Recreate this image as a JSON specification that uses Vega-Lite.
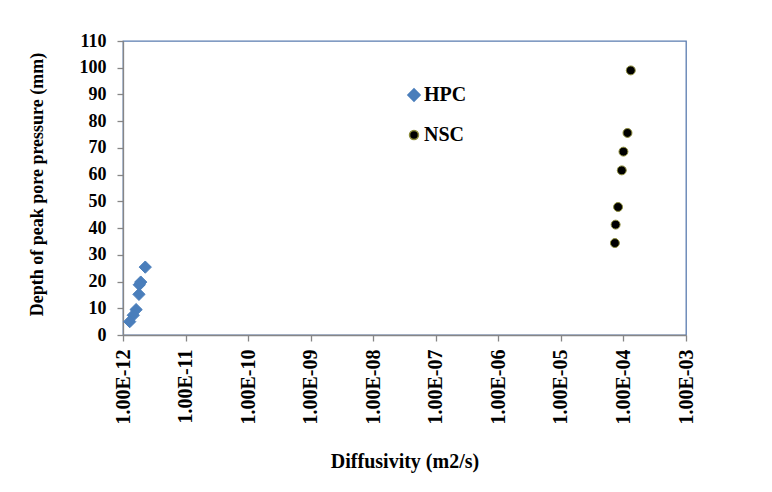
{
  "$schema": "https://vega.github.io/schema/vega-lite/v6.json",
  "width": 563,
  "height": 294,
  "autosize": {"type": "none"},
  "padding": {"left": 123, "top": 41, "right": 86, "bottom": 157},
  "background": "white",
  "config": {
    "font": "Liberation Serif",
    "view": {"stroke": "#5a7cb0", "strokeWidth": 1.3},
    "axis": {
      "grid": false,
      "domainColor": "#868686",
      "domainWidth": 1.3,
      "tickColor": "#868686",
      "tickWidth": 1.3,
      "tickSize": 6,
      "labelFont": "Liberation Serif",
      "labelFontWeight": "bold",
      "labelColor": "black",
      "titleFont": "Liberation Serif",
      "titleFontWeight": "bold",
      "titleColor": "black"
    }
  },
  "data": {
    "values": [
      {"series": "HPC", "diffusivity": 2.27e-12, "depth": 25.4},
      {"series": "HPC", "diffusivity": 1.92e-12, "depth": 19.8},
      {"series": "HPC", "diffusivity": 1.82e-12, "depth": 18.8},
      {"series": "HPC", "diffusivity": 1.80e-12, "depth": 15.2},
      {"series": "HPC", "diffusivity": 1.62e-12, "depth": 9.5},
      {"series": "HPC", "diffusivity": 1.46e-12, "depth": 7.4},
      {"series": "HPC", "diffusivity": 1.28e-12, "depth": 5.0},
      {"series": "NSC", "diffusivity": 1.31e-4, "depth": 99.0},
      {"series": "NSC", "diffusivity": 1.16e-4, "depth": 75.6},
      {"series": "NSC", "diffusivity": 1.00e-4, "depth": 68.6},
      {"series": "NSC", "diffusivity": 9.4e-5, "depth": 61.6},
      {"series": "NSC", "diffusivity": 8.2e-5, "depth": 47.9},
      {"series": "NSC", "diffusivity": 7.5e-5, "depth": 41.3},
      {"series": "NSC", "diffusivity": 7.3e-5, "depth": 34.4}
    ]
  },
  "mark": {"type": "point", "filled": true, "opacity": 1, "strokeWidth": 1},
  "encoding": {
    "x": {
      "field": "diffusivity",
      "type": "quantitative",
      "scale": {"type": "log", "domain": [1e-12, 1e-3], "nice": false},
      "axis": {
        "title": "Diffusivity (m2/s)",
        "titleFontSize": 20,
        "titleY": 126,
        "titleBaseline": "middle",
        "values": [1e-12, 1e-11, 1e-10, 1e-9, 1e-8, 1e-7, 1e-6, 1e-5, 1e-4, 1e-3],
        "labelExpr": "'1.00E-' + (abs(round(log(datum.value) / LN10)) < 10 ? '0' : '') + abs(round(log(datum.value) / LN10))",
        "labelAngle": -90,
        "labelAlign": "right",
        "labelBaseline": "middle",
        "labelFontSize": 20,
        "labelPadding": 8,
        "labelOverlap": false,
        "labelFlush": false
      }
    },
    "y": {
      "field": "depth",
      "type": "quantitative",
      "scale": {"domain": [0, 110], "nice": false},
      "axis": {
        "title": "Depth of peak pore pressure (mm)",
        "titleFontSize": 18,
        "titleAngle": -90,
        "titleX": -86,
        "titleY": 143,
        "titleAlign": "center",
        "titleBaseline": "middle",
        "values": [0, 10, 20, 30, 40, 50, 60, 70, 80, 90, 100, 110],
        "labelFontSize": 18,
        "labelPadding": 11,
        "labelOverlap": false,
        "labelFlush": false
      }
    },
    "shape": {
      "field": "series",
      "type": "nominal",
      "scale": {"domain": ["HPC", "NSC"], "range": ["diamond", "circle"]},
      "legend": {
        "title": null,
        "orient": "none",
        "legendX": 281,
        "legendY": 44,
        "padding": 0,
        "labelFont": "Liberation Serif",
        "labelFontWeight": "bold",
        "labelFontSize": 20,
        "labelColor": "black",
        "labelOffset": 0,
        "rowPadding": 20
      }
    },
    "color": {
      "field": "series",
      "type": "nominal",
      "scale": {"domain": ["HPC", "NSC"], "range": ["#4a7ebb", "#000000"]}
    },
    "stroke": {
      "field": "series",
      "type": "nominal",
      "scale": {"domain": ["HPC", "NSC"], "range": ["#4a7ebb", "#8c8c3a"]}
    },
    "size": {
      "field": "series",
      "type": "nominal",
      "scale": {"domain": ["HPC", "NSC"], "range": [150, 80]}
    }
  }
}
